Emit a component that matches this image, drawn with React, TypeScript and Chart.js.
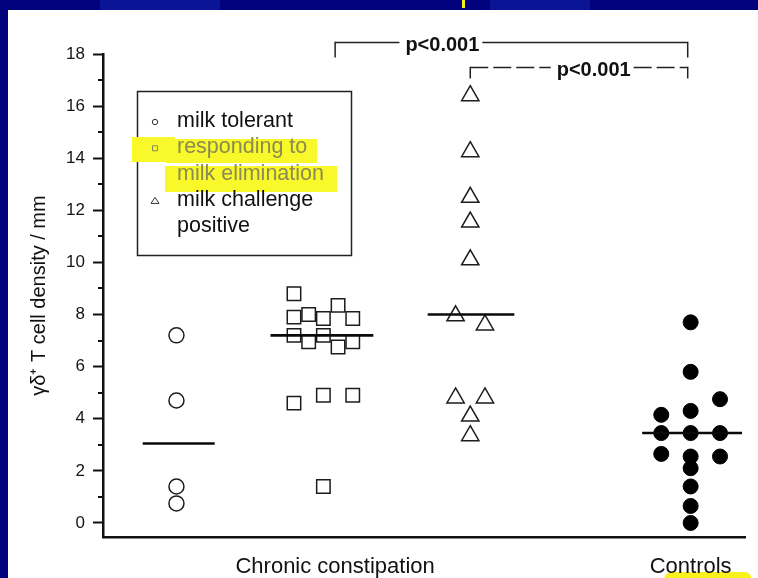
import React, { useEffect, useRef } from 'react';
import { Chart, registerables } from 'chart.js';

Chart.register(...registerables);

const FONT = "'Liberation Sans', Arial, Helvetica, sans-serif";

// ---- data ----
const yTicks = [0, 2, 4, 6, 8, 10, 12, 14, 16, 18];
const yMinorTicks = [1, 3, 5, 7, 9, 11, 13, 15, 17];
const yTitle = 'γδ⁺ T cell density / mm';

const xLabels = ['Chronic constipation', 'Controls'];
const xLabelPos = [2.08, 4.5];

const tolerantX = [1, 1, 1, 1];
const tolerantY = [7.2, 4.7, 1.4, 0.75];

const respondingX = [1.8, 1.8, 1.9, 2.0, 2.1, 2.2, 1.8, 1.9, 2.0, 2.1, 2.2, 1.8, 2.0, 2.2, 2.0];
const respondingY = [8.8, 7.9, 8.0, 7.85, 8.35, 7.85, 7.2, 6.95, 7.2, 6.75, 6.95, 4.6, 4.9, 4.9, 1.4];

const challengeX = [3.0, 3.0, 3.0, 3.0, 3.0, 2.9, 3.1, 2.9, 3.1, 3.0, 3.0];
const challengeY = [16.4, 14.25, 12.5, 11.55, 10.1, 7.95, 7.6, 4.8, 4.8, 4.1, 3.35];

const controlsX = [4.5, 4.5, 4.7, 4.3, 4.5, 4.3, 4.5, 4.7, 4.3, 4.5, 4.7, 4.5, 4.5, 4.5, 4.5];
const controlsY = [7.7, 5.8, 4.75, 4.15, 4.3, 3.45, 3.45, 3.45, 2.65, 2.55, 2.55, 2.1, 1.4, 0.65, 0.0];

const medianValues = [3.05, 7.2, 8.0, 3.45];
const medianFrom = [0.77, 1.64, 2.71, 4.17];
const medianTo = [1.26, 2.34, 3.3, 4.85];

const bracketLabels = ['p<0.001', 'p<0.001'];
const bracketFrom = [2.08, 3.0];
const bracketTo = [4.48, 4.48];
const bracketY = [18.45, 17.5];
const bracketLabelX = [2.81, 3.84];

const legendLines = [['milk tolerant'], ['responding to', 'milk elimination'], ['milk challenge', 'positive']];

// ---- drawing helpers ----
const decorPlugin = {
  id: 'decor',
  beforeDraw(chart: any) {
    const ctx = chart.ctx as CanvasRenderingContext2D;
    const W = chart.width;
    const H = chart.height;
    ctx.save();
    ctx.fillStyle = '#02037c';
    ctx.fillRect(0, 0, W, H);
    ctx.fillStyle = '#0a1596';
    ctx.fillRect(100, 0, 120, 10);
    ctx.fillRect(490, 0, 100, 10);
    ctx.fillStyle = '#ffffff';
    ctx.fillRect(8, 10, W - 8, H - 10);
    ctx.fillStyle = '#f7f21c';
    ctx.fillRect(462, 0, 3, 8);
    ctx.beginPath();
    ctx.roundRect(664, 572, 88, 16, 8);
    ctx.fill();
    ctx.restore();
  },
  afterDraw(chart: any) {
    const ctx = chart.ctx as CanvasRenderingContext2D;
    const xs = chart.scales.x;
    const ys = chart.scales.y;
    const area = chart.chartArea;
    ctx.save();

    // minor y ticks
    ctx.strokeStyle = '#111';
    ctx.lineWidth = 2;
    yMinorTicks.forEach((v) => {
      const py = Math.round(ys.getPixelForValue(v));
      ctx.beginPath();
      ctx.moveTo(area.left - 5, py);
      ctx.lineTo(area.left, py);
      ctx.stroke();
    });

    // brackets
    ctx.font = `bold 20px ${FONT}`;
    ctx.textAlign = 'center';
    ctx.textBaseline = 'middle';
    bracketLabels.forEach((lab, i) => {
      const x1 = xs.getPixelForValue(bracketFrom[i]);
      const x2 = xs.getPixelForValue(bracketTo[i]);
      const y = Math.round(ys.getPixelForValue(bracketY[i])) + 0.5;
      const cx = xs.getPixelForValue(bracketLabelX[i]);
      const w = ctx.measureText(lab).width;
      const drop = i === 0 ? 15 : 11;
      ctx.strokeStyle = '#222';
      ctx.lineWidth = 1.5;
      // verticals (solid)
      ctx.setLineDash([]);
      ctx.beginPath();
      ctx.moveTo(x1, y + drop);
      ctx.lineTo(x1, y - 0.75);
      ctx.moveTo(x2, y - 0.75);
      ctx.lineTo(x2, y + drop);
      ctx.stroke();
      // horizontal
      ctx.setLineDash(i === 0 ? [] : [18, 5]);
      ctx.beginPath();
      ctx.moveTo(x1, y);
      ctx.lineTo(cx - w / 2 - 6, y);
      ctx.stroke();
      ctx.beginPath();
      ctx.moveTo(cx + w / 2 + 3, y);
      ctx.lineTo(x2, y);
      ctx.stroke();
      ctx.setLineDash([]);
      ctx.fillStyle = '#111';
      ctx.fillText(lab, cx, y + 3);
    });

    // legend box
    const bx = area.left + 34;
    const by = area.top + 37;
    ctx.strokeStyle = '#222';
    ctx.lineWidth = 1.5;
    ctx.strokeRect(bx + 0.5, by + 0.5, 214, 164);

    // highlight of second entry
    ctx.fillStyle = '#f9f82a';
    ctx.fillRect(bx - 5, by + 46, 43, 25);
    ctx.fillRect(bx + 29, by + 48, 151, 24);
    ctx.fillRect(bx + 28, by + 75, 172, 26);

    const mx = bx + 18;
    const tx = bx + 40;
    const lineGap = 26.3;
    const firstBase = by + 36;
    ctx.font = `21.5px ${FONT}`;
    ctx.textAlign = 'left';
    ctx.textBaseline = 'alphabetic';
    let row = 0;
    legendLines.forEach((lines, i) => {
      const base = firstBase + row * lineGap;
      const my = base - 5;
      const highlighted = i === 1;
      ctx.strokeStyle = highlighted ? '#8a8a58' : '#333';
      ctx.lineWidth = 1;
      ctx.beginPath();
      if (i === 0) {
        ctx.arc(mx, my, 2.7, 0, Math.PI * 2);
      } else if (i === 1) {
        ctx.rect(mx - 2.5, my - 2.5, 5, 5);
      } else {
        ctx.moveTo(mx, my - 3.5);
        ctx.lineTo(mx + 4, my + 2.5);
        ctx.lineTo(mx - 4, my + 2.5);
        ctx.closePath();
      }
      ctx.stroke();
      ctx.fillStyle = highlighted ? '#8a8a52' : '#111';
      lines.forEach((t, j) => {
        ctx.fillText(t, tx, firstBase + (row + j) * lineGap);
      });
      row += lines.length;
    });

    ctx.restore();
  },
};

export default function App() {
  const ref = useRef<HTMLCanvasElement>(null);

  useEffect(() => {
    const canvas = ref.current;
    if (!canvas) return;
    const pts = (xs: number[], ys: number[]) => xs.map((x, i) => ({ x, y: ys[i] }));
    const medianSets = medianValues.map((m, i) => ({
      type: 'line' as const,
      label: 'median',
      data: [
        { x: medianFrom[i], y: m },
        { x: medianTo[i], y: m },
      ],
      borderColor: '#0a0a0a',
      borderWidth: 2.6,
      pointRadius: 0,
      fill: false,
      order: 0,
    }));

    const chart = new Chart(canvas, {
      type: 'scatter',
      data: {
        datasets: [
          {
            label: 'milk tolerant',
            data: pts(tolerantX, tolerantY),
            pointStyle: 'circle',
            pointRadius: 7.5,
            borderWidth: 1.5,
            borderColor: '#1c1c1c',
            backgroundColor: 'rgba(255,255,255,0)',
            order: 1,
          },
          {
            label: 'responding to milk elimination',
            data: pts(respondingX, respondingY),
            pointStyle: 'rect',
            pointRadius: 9.5,
            borderWidth: 1.5,
            borderColor: '#1c1c1c',
            backgroundColor: 'rgba(255,255,255,0)',
            order: 1,
          },
          {
            label: 'milk challenge positive',
            data: pts(challengeX, challengeY),
            pointStyle: 'triangle',
            pointRadius: 10,
            borderWidth: 1.5,
            borderColor: '#1c1c1c',
            backgroundColor: 'rgba(255,255,255,0)',
            order: 1,
          },
          {
            label: 'Controls',
            data: pts(controlsX, controlsY),
            pointStyle: 'circle',
            pointRadius: 7.5,
            borderWidth: 1,
            borderColor: '#000',
            backgroundColor: '#000',
            order: 1,
          },
          ...medianSets,
        ] as any,
      },
      options: {
        responsive: false,
        animation: false,
        devicePixelRatio: 1,
        layout: { padding: { left: 0, right: 13, top: 54, bottom: 0 } },
        plugins: {
          legend: { display: false },
          tooltip: { enabled: false },
        },
        scales: {
          x: {
            type: 'linear',
            min: 0.5,
            max: 4.87,
            afterBuildTicks: (s: any) => {
              s.ticks = xLabelPos.map((v) => ({ value: v }));
            },
            afterFit: (s: any) => {
              s.height = 41;
            },
            grid: { display: false, drawTicks: false },
            border: { display: true, color: '#111', width: 2.5 },
            ticks: {
              autoSkip: false,
              maxRotation: 0,
              padding: 17,
              color: '#111',
              font: { family: FONT, size: 22 },
              callback: (_v: any, i: number) => xLabels[i],
            },
          },
          y: {
            type: 'linear',
            min: -0.54,
            max: 18,
            afterBuildTicks: (s: any) => {
              s.ticks = yTicks.map((v) => ({ value: v }));
            },
            afterFit: (s: any) => {
              s.width = 103;
            },
            grid: {
              display: true,
              drawOnChartArea: false,
              drawTicks: true,
              tickLength: 10,
              tickWidth: 2,
              tickColor: '#111',
            },
            border: { display: true, color: '#111', width: 2.5 },
            ticks: {
              padding: 8,
              color: '#151515',
              font: { family: FONT, size: 17 },
              callback: (v: any) => String(v),
            },
            title: {
              display: true,
              text: yTitle,
              color: '#111',
              font: { family: FONT, size: 20 },
              padding: { top: 27, bottom: 0 },
            },
          },
        },
      } as any,
      plugins: [decorPlugin],
    });
    return () => chart.destroy();
  }, []);

  return (
    <div style={{ position: 'fixed', left: 0, top: 0, width: 758, height: 578 }}>
      <canvas ref={ref} width={758} height={578} style={{ display: 'block' }} />
    </div>
  );
}
